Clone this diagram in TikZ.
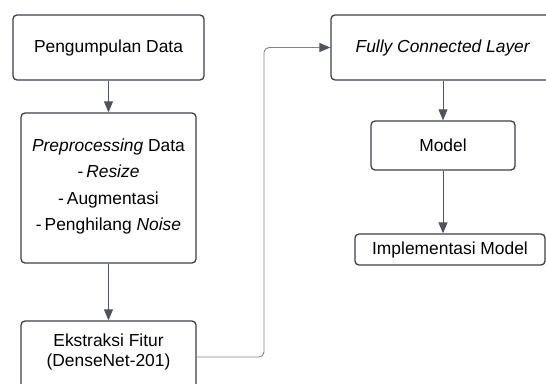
\documentclass[tikz,border=0pt]{standalone}
\usepackage{fontspec}
\setmainfont{Liberation Sans}
\usetikzlibrary{arrows.meta}
\definecolor{boxline}{RGB}{58,64,74}
\definecolor{arrowline}{RGB}{78,84,94}
\definecolor{linkline}{RGB}{128,133,140}
\newcommand{\bulletdash}{-\kern3pt}
\tikzset{
  stepbox/.style={draw=boxline, line width=1.3pt, rounded corners=4pt,
    fill=white, inner sep=0pt, align=center},
  lbl/.style={align=center, inner sep=0pt},
  flow/.style={draw=arrowline, line width=0.9pt,
    -{Triangle[length=11pt,width=9pt]}},
  link/.style={draw=linkline, line width=0.9pt, rounded corners=5pt,
    -{Triangle[length=11pt,width=9pt,color=arrowline]}},
}
\begin{document}
\begin{tikzpicture}[x=1pt, y=-1pt, font=\fontsize{17.4}{21}\selectfont]
\useasboundingbox (0,0) rectangle (546,383);

% left column
\node[stepbox, minimum width=191pt, minimum height=65pt] (collect) at (108.5,47.5)
  {Pengumpulan Data};
\node[stepbox, minimum width=175pt, minimum height=150pt] (prep) at (108.5,188) {};
\node[lbl, font=\fontsize{17.4}{26.3}\selectfont] (preptext) at (108.5,186.5)
  {\textit{Preprocessing} Data\\\bulletdash\textit{Resize}\\\bulletdash Augmentasi\\\bulletdash Penghilang \textit{Noise}};
\node[stepbox, minimum width=175pt, minimum height=72pt] (feat) at (108.5,357) {};
\node[lbl, font=\fontsize{17.4}{20}\selectfont] (feattext) at (108.5,352)
  {Ekstraksi Fitur\\(DenseNet-201)};

% right column
\node[stepbox, minimum width=224pt, minimum height=65pt] (fcl) at (443,47.5)
  {\textit{Fully Connected Layer}};
\node[stepbox, minimum width=144pt, minimum height=49pt] (model) at (443,145.5)
  {Model};
\node[stepbox, minimum width=190pt, minimum height=31pt] (impl) at (450,249.5)
  {Implementasi Model};

% connectors
\draw[flow] (collect.south) -- (prep.north);
\draw[flow] (prep.south) -- (feat.north);
\coordinate (turn) at (264,47.5);
\draw[link] (feat.east) -| (turn) -- (fcl.west);
\draw[flow] (fcl.south) -- (model.north);
\draw[flow] (model.south) -- (model.south |- impl.north);
\end{tikzpicture}
\end{document}
